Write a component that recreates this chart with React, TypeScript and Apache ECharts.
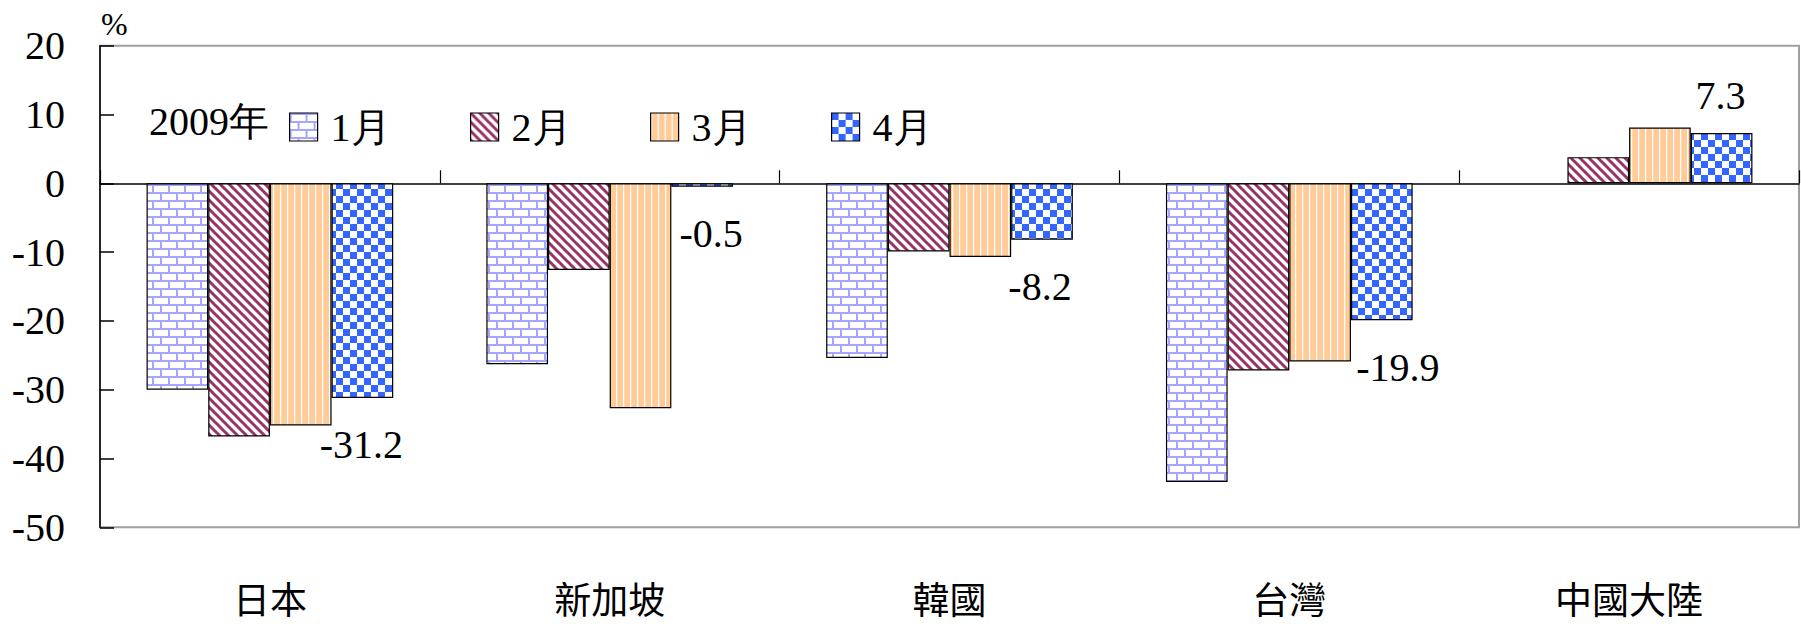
import { useEffect, useRef } from "react";
import * as echarts from "echarts";

// Export growth by destination, 2009, % change (Jan–Apr)
const categories = ["日本", "新加坡", "韓國", "台灣", "中國大陸"];
const months = ["1月", "2月", "3月", "4月"];
const janValues = [-30.0, -26.3, -25.4, -43.4, null];
const febValues = [-36.8, -12.6, -9.9, -27.2, 3.8];
const marValues = [-35.2, -32.7, -10.7, -25.9, 8.1];
const aprValues = [-31.2, -0.5, -8.2, -19.9, 7.3];
const yMin = -50;
const yMax = 20;
const yStep = 10;
const unitText = "%";
const yearText = "2009年";

const SERIF = "Liberation Serif, Times New Roman, serif";
const CJK = "Noto Sans CJK TC, Noto Sans CJK SC, sans-serif";

function makeTile(w: number, h: number, draw: (g: CanvasRenderingContext2D) => void) {
  const c = document.createElement("canvas");
  c.width = w;
  c.height = h;
  const g = c.getContext("2d")!;
  draw(g);
  return c;
}

// Fill patterns for the four months: brick, wide diagonal, vertical stripe, checker
function buildPatterns() {
  const brick = makeTile(16, 16, (g) => {
    g.fillStyle = "#ffffff";
    g.fillRect(0, 0, 16, 16);
    g.fillStyle = "#a6a6ff";
    g.fillRect(0, 0, 16, 2);
    g.fillRect(0, 8, 16, 2);
    g.fillRect(0, 0, 2, 8);
    g.fillRect(8, 8, 2, 8);
  });
  const diagonal = makeTile(9, 9, (g) => {
    g.fillStyle = "#ffffff";
    g.fillRect(0, 0, 9, 9);
    g.strokeStyle = "#993366";
    g.lineWidth = 3;
    for (const k of [-9, 0, 9]) {
      g.beginPath();
      g.moveTo(k - 2, -2);
      g.lineTo(k + 11, 11);
      g.stroke();
    }
  });
  const vertical = makeTile(7, 7, (g) => {
    g.fillStyle = "#ffcc99";
    g.fillRect(0, 0, 7, 7);
    g.fillStyle = "#ffffff";
    g.fillRect(0, 0, 1.2, 7);
  });
  const checker = makeTile(14, 14, (g) => {
    g.fillStyle = "#ffffff";
    g.fillRect(0, 0, 14, 14);
    g.fillStyle = "#3366ff";
    g.fillRect(0, 0, 7, 7);
    g.fillRect(7, 7, 7, 7);
  });
  return [brick, diagonal, vertical, checker];
}

export default function App() {
  const ref = useRef<HTMLDivElement>(null);

  useEffect(() => {
    if (!ref.current) return;
    const chart = echarts.init(ref.current, null, { renderer: "svg" });
    const tiles = buildPatterns();
    const seriesValues = [janValues, febValues, marValues, aprValues];

    // horizontal nudges for the April value labels
    const labelNudge = [-1, 9, -2, 16, -1];
    const legendLeft = [289, 470, 650, 831];

    const series = months.map((m, si) => {
      const vals = seriesValues[si];
      const data =
        si === 3
          ? vals.map((v, i) => ({
              value: v,
              label: {
                show: true,
                position: (v as number) < 0 ? "bottom" : "top",
                distance: (v as number) < 0 ? 27 : 18,
                offset: [labelNudge[i], 0],
              },
            }))
          : vals;
      return {
        name: m,
        type: "bar",
        xAxisIndex: 0,
        yAxisIndex: 0,
        barGap: "0%",
        barCategoryGap: "27.4%",
        itemStyle: {
          color: { image: tiles[si], repeat: "repeat" },
          borderColor: "#000000",
          borderWidth: 1.2,
        },
        label: {
          show: false,
          fontFamily: SERIF,
          fontSize: 40,
          color: "#000000",
          formatter: (p: any) => Number(p.value).toFixed(1),
        },
        emphasis: { disabled: true },
        data,
      };
    });

    chart.setOption({
      animation: false,
      grid: {
        left: 100,
        right: 2,
        top: 45.7,
        bottom: 96.7,
        show: true,
        borderColor: "#a0a0a0",
        borderWidth: 2,
        backgroundColor: "transparent",
        containLabel: false,
        outerBoundsMode: "none",
      },
      legend: months.map((m, i) => ({
        data: [m],
        left: legendLeft[i],
        top: 107,
        padding: 0,
        itemWidth: 28,
        itemHeight: 28,
        icon: "rect",
        selectedMode: false,
        itemStyle: { borderColor: "#000000", borderWidth: 1.2 },
        textStyle: {
          fontFamily: SERIF,
          fontSize: 40,
          color: "#000000",
          padding: [0, 0, 0, 8],
        },
      })),
      graphic: [
        {
          type: "text",
          left: 101,
          top: 8,
          style: { text: unitText, fontFamily: SERIF, fontSize: 32, fill: "#000000" },
        },
        {
          type: "text",
          left: 149,
          top: 101,
          style: { text: yearText, fontFamily: SERIF, fontSize: 40, fill: "#000000" },
        },
      ],
      xAxis: [
        {
          type: "category",
          data: categories,
          position: "bottom",
          axisLine: { show: true, onZero: true, lineStyle: { color: "#000000", width: 1.5 } },
          axisTick: { show: true, inside: true, length: 13, interval: 0, lineStyle: { color: "#000000", width: 1.2 } },
          axisLabel: { show: false },
          splitLine: { show: false },
        },
        {
          type: "category",
          data: categories,
          position: "bottom",
          axisLine: { show: false, onZero: false },
          axisTick: { show: false },
          axisLabel: { show: true, fontFamily: CJK, fontSize: 37, color: "#000000", margin: 52 },
          splitLine: { show: false },
        },
      ],
      yAxis: {
        type: "value",
        min: yMin,
        max: yMax,
        interval: yStep,
        axisLine: { show: true, lineStyle: { color: "#000000", width: 1.5 } },
        axisTick: { show: true, inside: true, length: 14, lineStyle: { color: "#000000", width: 1.5 } },
        axisLabel: { fontFamily: SERIF, fontSize: 40, color: "#000000", margin: 35 },
        splitLine: { show: false },
      },
      series,
    });

    return () => chart.dispose();
  }, []);

  return (
    <div
      ref={ref}
      style={{ position: "absolute", left: 0, top: 0, width: 1801, height: 624, background: "#ffffff" }}
    />
  );
}
